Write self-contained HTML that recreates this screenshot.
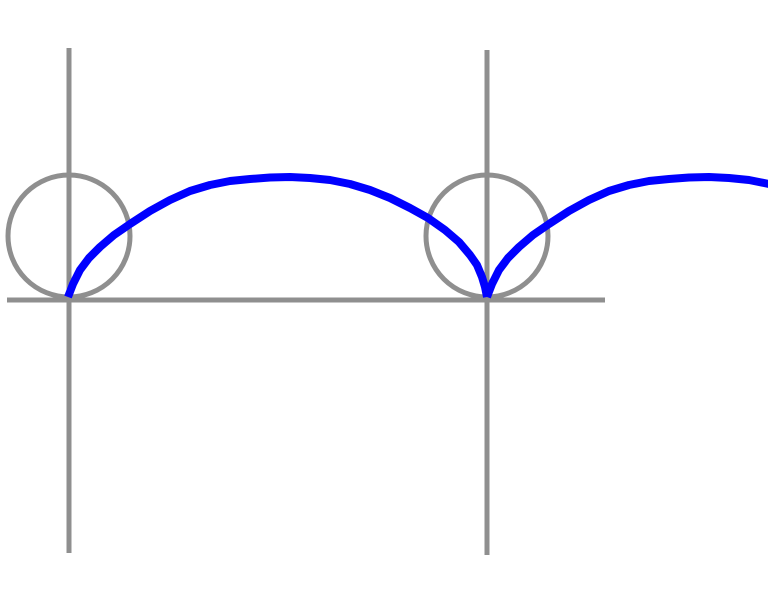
<!DOCTYPE html>
<html><head><meta charset="utf-8"><style>html,body{margin:0;padding:0;background:#fff;width:768px;height:591px;overflow:hidden}</style></head>
<body>
<svg width="768" height="591" viewBox="0 0 768 591" xmlns="http://www.w3.org/2000/svg">
<g stroke="#8f8f8f" stroke-width="5" fill="none">
<line x1="69" y1="48" x2="69" y2="553"/>
<line x1="487" y1="50" x2="487" y2="555"/>
<line x1="7" y1="300" x2="605" y2="300"/>
<circle cx="69" cy="236" r="61"/>
<circle cx="487" cy="236" r="61"/>
</g>
<polyline fill="none" stroke="#0000ff" stroke-width="8" stroke-linejoin="round"
points="68,297 73,284 80,270 89,258 100,247 114,235 130,224 150,211 170,200 190,191 210,185 230,181 250,179 270,177.5 290,177 310,178 330,180 350,184 370,190 390,198 410,208 428,218 445,230 459,242 470,255 477,265 482,277 485,287 487,297"/>
<polyline fill="none" stroke="#0000ff" stroke-width="8" stroke-linejoin="round"
points="487,297 492,284 499,270 508,258 519,247 533,235 549,224 569,211 589,200 609,191 629,185 649,181 669,179 689,177.5 709,177 729,178 749,180 769,184 789,190"/>
</svg>
</body></html>
